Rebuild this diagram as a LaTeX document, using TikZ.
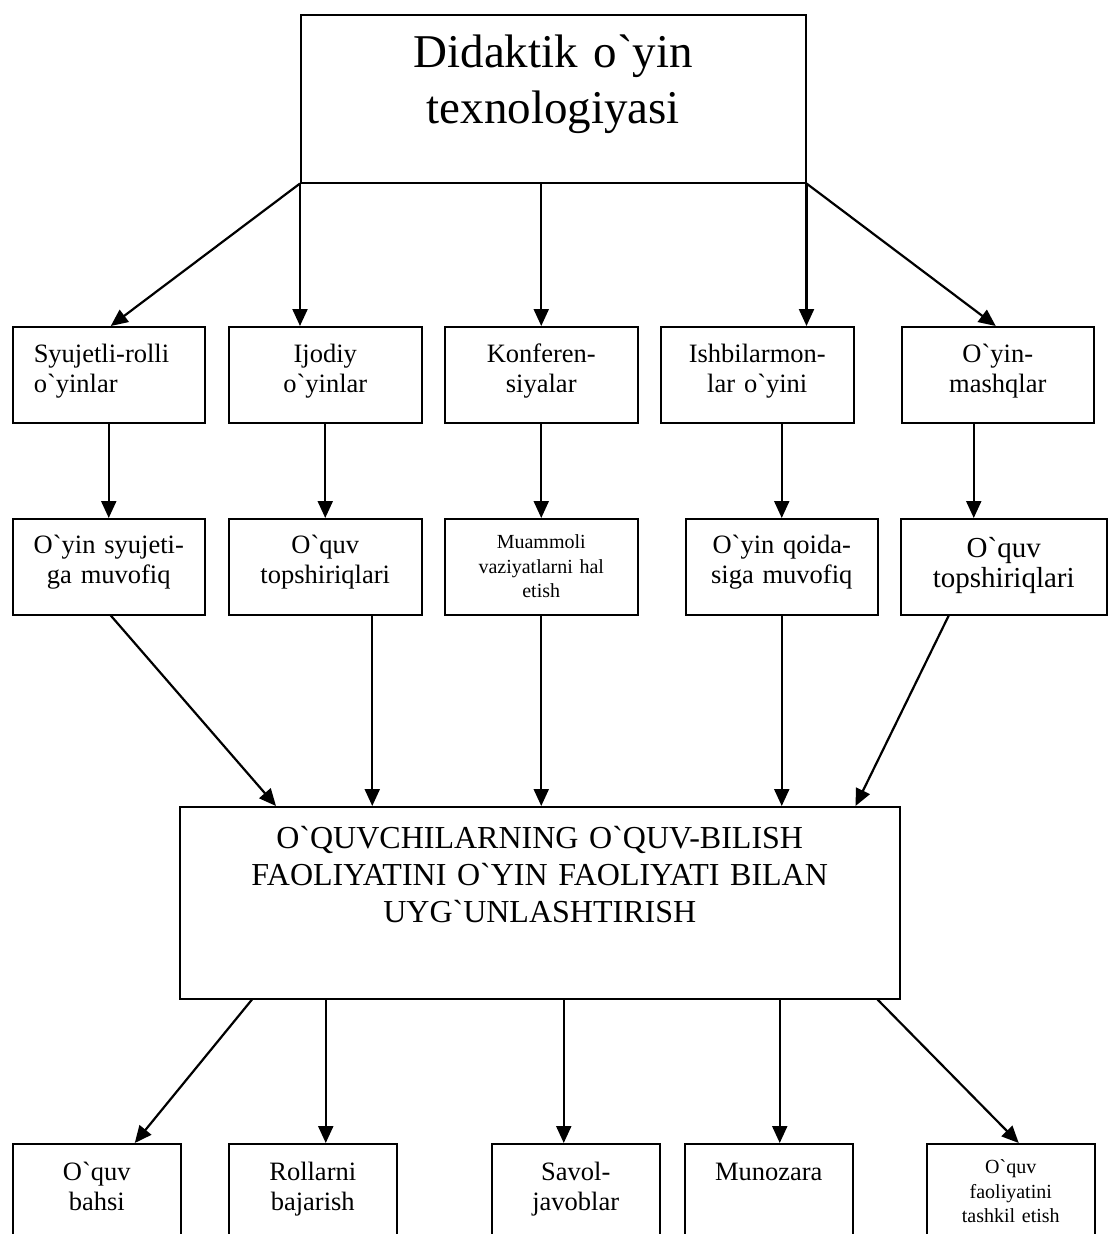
\documentclass[tikz,border=0pt]{standalone}
\usepackage{fontspec}
\setmainfont{Liberation Serif}[Ligatures=TeXOff]
\usetikzlibrary{arrows.meta}
\tikzset{
  box/.style={draw=black, line width=1.5pt, inner sep=0pt, anchor=north west, align=center, text height=36pt, text depth=60pt, font=\fontsize{26.5}{30}\selectfont},
  arr/.style={-{Triangle[length=17pt,width=15pt]}, line width=2.2pt}
}
\begin{document}
\begin{tikzpicture}[x=1pt, y=-1pt]
\clip (0,0) rectangle (1108,1234);
\node[box, text width=505pt, text height=53pt, text depth=115pt, font=\fontsize{47}{56}\selectfont] (top) at (300,14) {Didaktik o`yin\\texnologiyasi};
\node[box, text width=150pt, inner xsep=21pt, align=flush left] (a1) at (12,326) {Syujetli-rolli\\o`yinlar};
\node[box, text width=193pt] (a2) at (228,326) {Ijodiy\\o`yinlar};
\node[box, text width=193pt] (a3) at (444,326) {Konferen-\\siyalar};
\node[box, text width=193pt] (a4) at (660,326) {Ishbilarmon-\\lar o`yini};
\node[box, text width=192pt] (a5) at (901,326) {O`yin-\\mashqlar};
\node[box, text width=192pt, text height=35pt, text depth=61pt] (b1) at (12,518) {O`yin syujeti-\\ga muvofiq};
\node[box, text width=193pt, text height=35pt, text depth=61pt] (b2) at (228,518) {O`quv\\topshiriqlari};
\node[box, text width=193pt, text height=30pt, text depth=66pt, font=\fontsize{20}{24.5}\selectfont] (b3) at (444,518) {Muammoli\\vaziyatlarni hal\\etish};
\node[box, text width=192pt, text height=35pt, text depth=61pt] (b4) at (685,518) {O`yin qoida-\\siga muvofiq};
\node[box, text width=206pt, text height=39pt, text depth=57pt, font=\fontsize{29}{30}\selectfont] (b5) at (900,518) {O`quv\\topshiriqlari};
\node[box, text width=720pt, text height=42pt, text depth=150pt, font=\fontsize{32}{37}\selectfont] (m) at (179,806) {O`QUVCHILARNING O`QUV-BILISH\\FAOLIYATINI O`YIN FAOLIYATI BILAN\\UYG`UNLASHTIRISH};
\node[box, text width=168pt, text height=37pt, text depth=93pt] (c1) at (12,1143) {O`quv\\bahsi};
\node[box, text width=168pt, text height=37pt, text depth=93pt] (c2) at (228,1143) {Rollarni\\bajarish};
\node[box, text width=168pt, text height=37pt, text depth=93pt] (c3) at (491,1143) {Savol-\\javoblar};
\node[box, text width=168pt, text height=37pt, text depth=93pt] (c4) at (684,1143) {Munozara};
\node[box, text width=168pt, text height=30pt, text depth=100pt, font=\fontsize{20}{24.5}\selectfont] (c5) at (926,1143) {O`quv\\faoliyatini\\tashkil etish};
\draw[arr] (top.south west) -- ([xshift=2pt]a1.north);
\draw[arr] (top.south west) -- (top.south west |- a2.north);
\draw[arr] (a3.north |- top.south) -- (a3.north);
\draw[arr] (top.south east) -- (top.south east |- a4.north);
\draw[arr] (top.south east) -- ([xshift=-2pt]a5.north);
\draw[arr] (a1.south) -- (b1.north);
\draw[arr] (a2.south) -- (b2.north);
\draw[arr] (a3.south) -- (b3.north);
\draw[arr] (b4.north |- a4.south) -- (b4.north);
\draw[arr] ([xshift=-24pt]a5.south) -- ([xshift=-24pt]a5.south |- b5.north);
\draw[arr] ([xshift=2pt]b1.south) -- ([xshift=97pt]m.north west);
\draw[arr] ([xshift=47pt]b2.south) -- ([xshift=47pt]b2.south |- m.north);
\draw[arr] (b3.south) -- (b3.south |- m.north);
\draw[arr] (b4.south) -- (b4.south |- m.north);
\draw[arr] ([xshift=-55pt]b5.south) -- ([xshift=-45pt]m.north east);
\draw[arr] ([xshift=73pt]m.south west) -- ([xshift=38pt]c1.north);
\draw[arr] ([xshift=13pt]c2.north |- m.south) -- ([xshift=13pt]c2.north);
\draw[arr] ([xshift=-12pt]c3.north |- m.south) -- ([xshift=-12pt]c3.north);
\draw[arr] ([xshift=11pt]c4.north |- m.south) -- ([xshift=11pt]c4.north);
\draw[arr] ([xshift=-23pt]m.south east) -- ([xshift=8pt]c5.north);
\end{tikzpicture}
\end{document}
